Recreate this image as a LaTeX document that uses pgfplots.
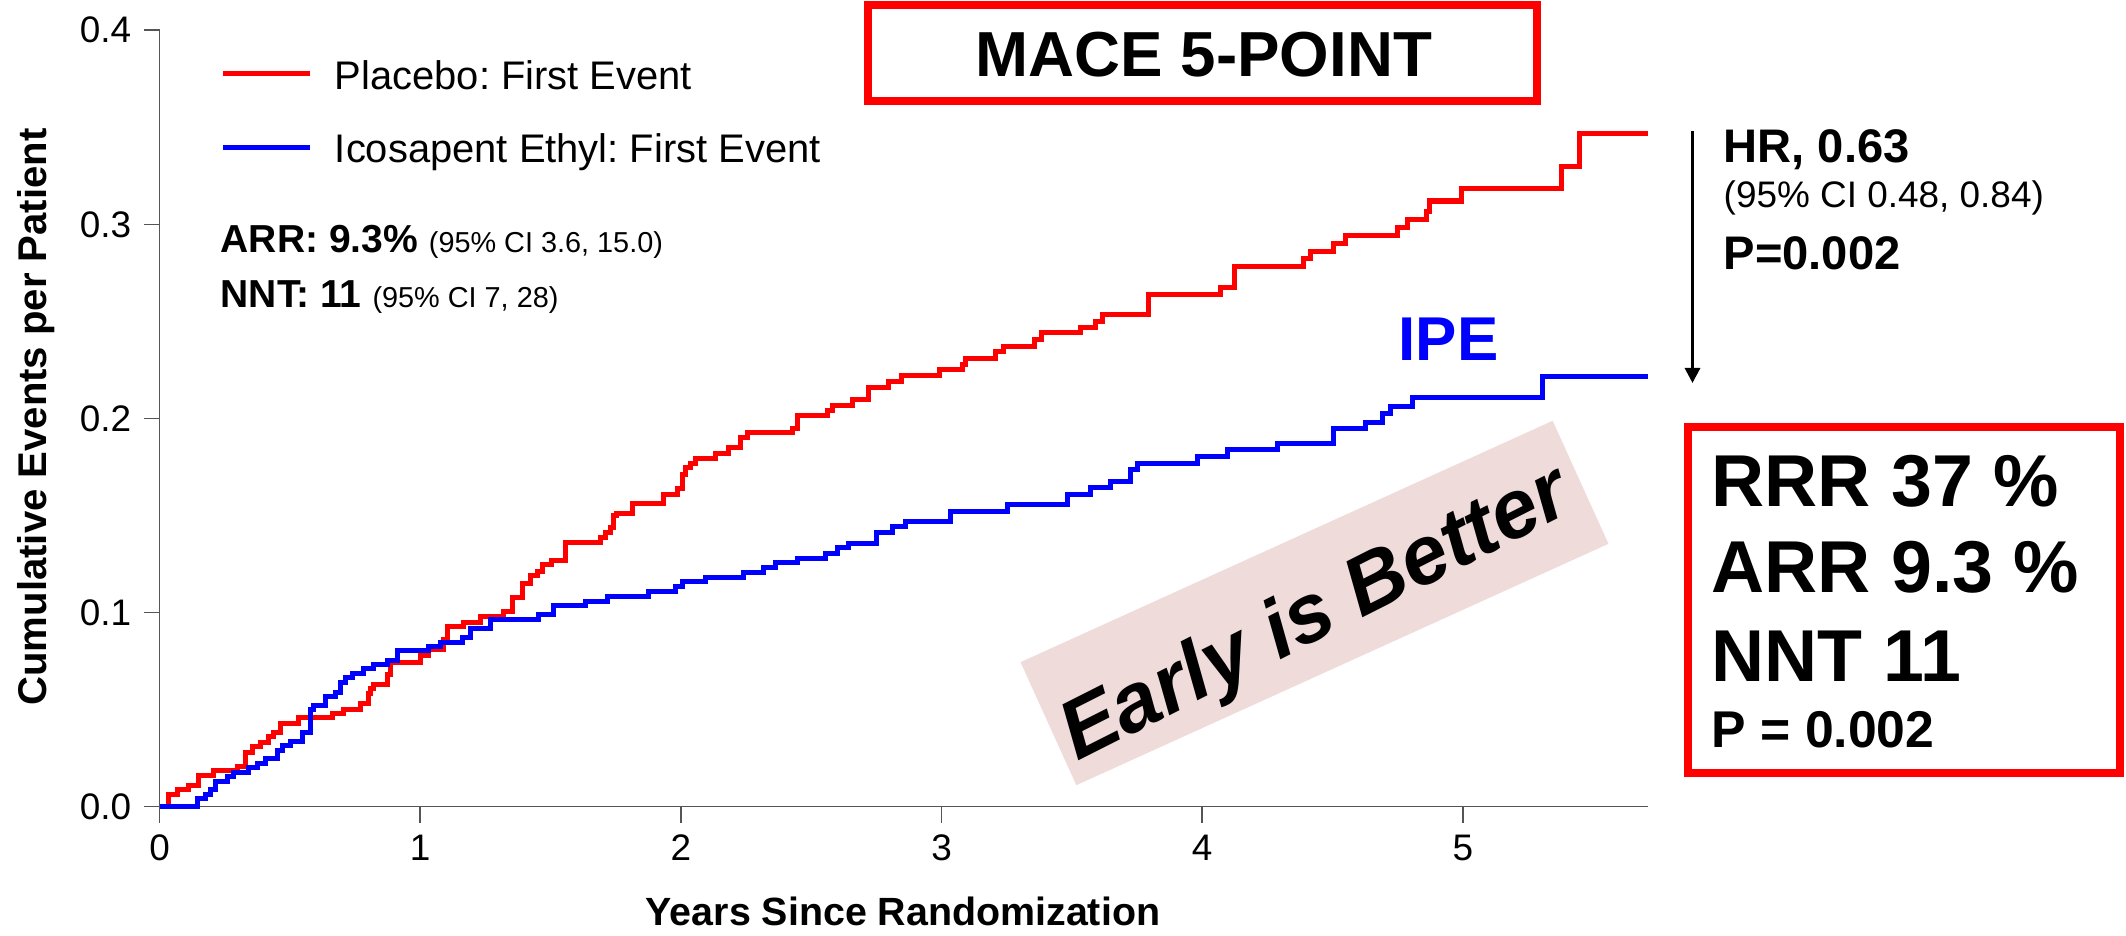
\documentclass[border=0pt]{standalone}
\usepackage{pgfplots}
\pgfplotsset{compat=1.18}
\usepackage{fontspec}
\setmainfont{Liberation Sans}
\usetikzlibrary{arrows.meta}
\definecolor{axisgray}{RGB}{85,85,85}
\definecolor{curvered}{RGB}{255,0,0}
\definecolor{curveblue}{RGB}{0,0,255}
\definecolor{pinkbox}{RGB}{240,219,219}
\newcommand\fs[1]{\fontsize{#1pt}{#1pt}\selectfont}
\frenchspacing

\begin{document}
\begin{tikzpicture}[x=0.01cm,y=0.01cm]
\path[use as bounding box] (0,0) rectangle (2126,936);

\begin{axis}[
  at={(1.595cm,1.293cm)}, anchor=south west,
  scale only axis, width=14.875cm, height=7.76cm,
  xmin=0, xmax=5.71, ymin=0, ymax=0.4,
  axis lines=left,
  axis line style={-, draw=axisgray, line width=0.43pt},
  tick style={draw=axisgray, line width=0.43pt},
  tick align=outside, major tick length=0.16cm,
  xtick={0,1,2,3,4,5}, ytick={0,0.1,0.2,0.3,0.4},
  yticklabel style={/pgf/number format/.cd, fixed, fixed zerofill, precision=1},
  /pgf/number format/assume math mode=true,
  tick label style={font=\fs{10.5}},
  clip=false,
  legend style={at={(0.0407,0.958)}, anchor=north west, draw=none, fill=none,
    inner sep=0pt, row sep=0.41cm, column sep=0.22cm, font=\fs{11.35},
    nodes={inner sep=0pt, text height=0.73em, text depth=0.2em}},
  legend cell align=left,
  legend image code/.code={\draw[#1] (0cm,0.06cm) -- (0.87cm,0.06cm);},
]
\addplot[const plot, draw=curvered, line width=0.05cm] coordinates {
(0,0) (0.033,0.006) (0.067,0.0086) (0.109,0.011) (0.148,0.016) (0.205,0.0186)
(0.298,0.0206) (0.328,0.028) (0.355,0.031) (0.386,0.033) (0.417,0.036) (0.436,0.038)
(0.463,0.043) (0.532,0.0457) (0.662,0.048) (0.704,0.050) (0.770,0.053) (0.800,0.0585)
(0.808,0.061) (0.820,0.063) (0.873,0.068) (0.885,0.0745) (1.000,0.078) (1.031,0.081)
(1.088,0.086) (1.104,0.093) (1.165,0.095) (1.230,0.098) (1.319,0.1005) (1.353,0.1076)
(1.392,0.115) (1.422,0.119) (1.449,0.121) (1.468,0.1245) (1.503,0.127) (1.557,0.136)
(1.691,0.1385) (1.710,0.141) (1.729,0.144) (1.741,0.150) (1.752,0.151) (1.814,0.156)
(1.933,0.161) (1.987,0.164) (2.006,0.171) (2.017,0.1746) (2.036,0.177) (2.056,0.1795)
(2.132,0.182) (2.182,0.185) (2.228,0.190) (2.255,0.1926) (2.428,0.195) (2.447,0.2014)
(2.562,0.204) (2.582,0.2067) (2.658,0.2096) (2.720,0.2158) (2.797,0.219) (2.846,0.222)
(2.992,0.225) (3.081,0.2277) (3.092,0.231) (3.207,0.2346) (3.238,0.237) (3.357,0.2406)
(3.384,0.244) (3.533,0.2467) (3.591,0.250) (3.618,0.2535) (3.795,0.2638) (4.071,0.2674)
(4.125,0.2784) (4.390,0.2825) (4.417,0.286) (4.505,0.290) (4.551,0.294) (4.751,0.2983)
(4.789,0.3024) (4.862,0.3067) (4.873,0.312) (4.996,0.3184) (5.380,0.330) (5.449,0.347)
(5.710,0.347)};
\addlegendentry{Placebo: First Event}
\addplot[const plot, draw=curveblue, line width=0.05cm] coordinates {
(0,0) (0.144,0.004) (0.175,0.006) (0.194,0.0086) (0.213,0.013) (0.259,0.0153)
(0.282,0.0175) (0.340,0.020) (0.374,0.022) (0.405,0.0246) (0.451,0.029) (0.470,0.0315)
(0.501,0.0335) (0.547,0.038) (0.578,0.050) (0.589,0.052) (0.635,0.0567) (0.674,0.059)
(0.693,0.0638) (0.712,0.0663) (0.739,0.0684) (0.781,0.071) (0.820,0.073) (0.873,0.0753)
(0.911,0.0803) (1.031,0.0823) (1.077,0.0845) (1.161,0.087) (1.192,0.0916) (1.269,0.0962)
(1.453,0.0988) (1.511,0.1035) (1.634,0.1057) (1.718,0.1082) (1.875,0.1107) (1.979,0.1133)
(2.006,0.1158) (2.094,0.118) (2.240,0.1206) (2.317,0.1232) (2.363,0.1258) (2.447,0.128)
(2.555,0.1306) (2.601,0.1333) (2.643,0.1358) (2.751,0.1412) (2.812,0.1443) (2.862,0.1467)
(3.035,0.152) (3.253,0.1555) (3.484,0.1608) (3.572,0.1645) (3.649,0.1675) (3.726,0.1735)
(3.752,0.177) (3.983,0.1804) (4.098,0.1838) (4.290,0.187) (4.505,0.1946) (4.628,0.198)
(4.693,0.2024) (4.724,0.206) (4.808,0.2106) (5.307,0.2216) (5.710,0.2216)};
\addlegendentry{Icosapent Ethyl: First Event}
\end{axis}

% axis labels
\node[rotate=90, anchor=base, inner sep=0pt] at (47,519) {\fs{11.4}\bfseries Cumulative Events per Patient};
\node[anchor=base, inner sep=0pt] at (903,10) {\fs{11.2}\bfseries Years Since Randomization};

% ARR / NNT
\node[anchor=base west, inner sep=0pt] at (220,683) {\fs{11.1}\bfseries ARR: 9.3\%\ \fs{8.2}\mdseries (95\% CI 3.6, 15.0)};
\node[anchor=base west, inner sep=0pt] at (220,628) {\fs{11.1}\bfseries NNT: 11\ \fs{8.2}\mdseries (95\% CI 7, 28)};

% title box
\draw[curvered, line width=0.08cm] (868,931) rectangle (1537,835);
\node[anchor=base, inner sep=0pt] at (1204,859) {\fs{18.1}\bfseries MACE 5-POINT};

% hazard ratio
\draw[line width=0.03cm, -{Triangle[length=0.15cm,width=0.15cm]}] (1692.5,805) -- (1692.5,553);
\node[anchor=base west, inner sep=0pt] at (1723,773) {\fs{13.4}\bfseries HR, 0.63};
\node[anchor=base west, inner sep=0pt] at (1723,728) {\fs{10.5}(95\% CI 0.48, 0.84)};
\node[anchor=base west, inner sep=0pt] at (1723,666) {\fs{13.4}\bfseries P=0.002};

\node[anchor=base west, inner sep=0pt, text=curveblue] at (1398,575) {\fs{17.6}\bfseries IPE};

% early is better
\node[rotate=24.4, fill=pinkbox, minimum width=5.84cm, minimum height=1.35cm, inner sep=0pt] at (1314.5,333) {};
\node[rotate=26.8, inner sep=0pt] at (1317,319) {\fs{23.6}\bfseries\itshape Early is Better};

% summary box
\draw[curvered, line width=0.08cm] (1688,509) rectangle (2120,163);
\node[anchor=base west, inner sep=0pt] at (1711,429) {\fs{20.9}\bfseries RRR 37 \%};
\node[anchor=base west, inner sep=0pt] at (1711,343) {\fs{20.9}\bfseries ARR 9.3 \%};
\node[anchor=base west, inner sep=0pt] at (1711,254) {\fs{20.9}\bfseries NNT 11};
\node[anchor=base west, inner sep=0pt] at (1711,188) {\fs{14.7}\bfseries P = 0.002};
\end{tikzpicture}
\end{document}
